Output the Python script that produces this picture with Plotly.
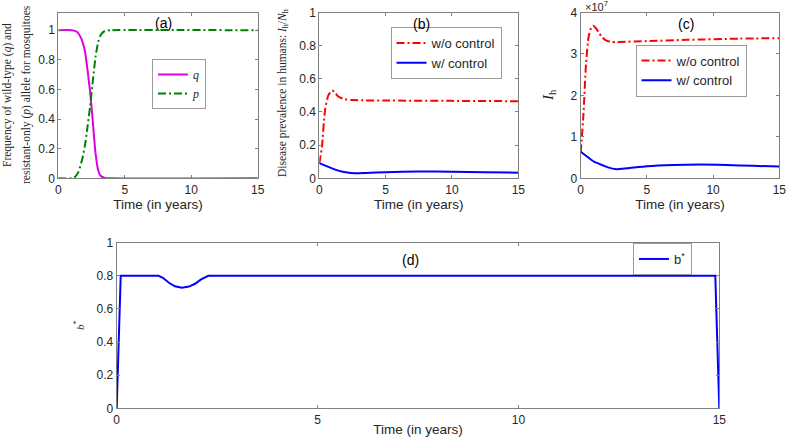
import plotly.graph_objects as go

# ---------------- data ----------------
# (a) allele frequencies
t_q = [0, 1.0, 1.4, 1.7, 2.0, 2.2, 2.4, 2.6, 2.8, 3.0, 3.2, 3.5, 4.0, 15]
q_vals = [1, 1, 0.99, 0.95, 0.86, 0.73, 0.58, 0.38, 0.17, 0.055, 0.015, 0.003, 0, 0]
t_p = [0, 1.0, 1.2, 1.5, 1.8, 2.0, 2.2, 2.4, 2.6, 2.8, 3.0, 3.2, 3.5, 4.0, 15]
p_vals = [0, 0, 0.005, 0.04, 0.13, 0.22, 0.35, 0.49, 0.66, 0.82, 0.92, 0.97, 0.995, 1, 1]

# (b) disease prevalence
t_b_wo = [0, 0.2, 0.43, 0.68, 0.98, 1.18, 1.43, 1.93, 2.5, 3.5, 5, 10, 15]
prev_wo = [0.09, 0.19, 0.41, 0.50, 0.529, 0.517, 0.493, 0.477, 0.472, 0.470, 0.469, 0.467, 0.465]
t_b_w = [0, 0.5, 1.0, 1.5, 2.0, 2.7, 3.5, 5, 7.5, 10, 12.5, 15]
prev_w = [0.092, 0.075, 0.058, 0.045, 0.036, 0.030, 0.032, 0.037, 0.041, 0.040, 0.037, 0.034]

# (c) infected humans
t_c_wo = [0, 0.2, 0.4, 0.6, 0.8, 0.95, 1.15, 1.4, 1.6, 1.9, 2.3, 2.7, 3, 5, 8, 12, 15]
ih_wo = [0.62e7, 1.5e7, 2.75e7, 3.42e7, 3.64e7, 3.68e7, 3.62e7, 3.50e7, 3.41e7, 3.33e7,
         3.29e7, 3.28e7, 3.29e7, 3.31e7, 3.34e7, 3.37e7, 3.38e7]
t_c_w = [0, 0.5, 1.0, 1.31, 2.0, 2.7, 3.5, 5, 7, 9, 11, 13, 15]
ih_w = [0.64e7, 0.52e7, 0.40e7, 0.36e7, 0.27e7, 0.22e7, 0.24e7, 0.29e7, 0.32e7, 0.33e7,
        0.32e7, 0.30e7, 0.285e7]

# (d) control b*
t_d = [0, 0.1, 1.04, 1.15, 1.3, 1.45, 1.62, 1.8, 1.95, 2.1, 2.28, 14.9, 15]
b_vals = [0, 0.8, 0.8, 0.788, 0.758, 0.737, 0.728, 0.735, 0.752, 0.778, 0.8, 0.8, 0]

x_ticks = [0, 5, 10, 15]
y_ticks01 = [0, 0.2, 0.4, 0.6, 0.8, 1]
y_ticks_c = [0, 1e7, 2e7, 3e7, 4e7]
y_ticktext_c = ["0", "1", "2", "3", "4"]

# ---------------- layout helpers ----------------
W, H = 787, 437
def fx(x):
    return x / W
def fy(y):
    return 1 - y / H

AX = "#808080"
TXT = "#262626"
SANS = "Liberation Sans, Arial, sans-serif"
SERIF = "Liberation Serif, Times New Roman, serif"
DASHDOT = "8px,3px,2px,3px"

fig = go.Figure()

# (a)
fig.add_trace(go.Scatter(x=t_q, y=q_vals, mode="lines", name="<i>q</i>",
                         line=dict(color="#e000e0", width=2, shape="spline", smoothing=0.6),
                         xaxis="x", yaxis="y", legend="legend"))
fig.add_trace(go.Scatter(x=t_p, y=p_vals, mode="lines", name="<i>p</i>",
                         line=dict(color="#008000", width=2, dash=DASHDOT, shape="spline", smoothing=0.6),
                         xaxis="x", yaxis="y", legend="legend"))
# (b)
fig.add_trace(go.Scatter(x=t_b_wo, y=prev_wo, mode="lines", name="w/o control",
                         line=dict(color="#ff0000", width=2, dash=DASHDOT, shape="spline", smoothing=0.6),
                         xaxis="x2", yaxis="y2", legend="legend2"))
fig.add_trace(go.Scatter(x=t_b_w, y=prev_w, mode="lines", name="w/ control",
                         line=dict(color="#0000ff", width=2, shape="spline", smoothing=0.6),
                         xaxis="x2", yaxis="y2", legend="legend2"))
# (c)
fig.add_trace(go.Scatter(x=t_c_wo, y=ih_wo, mode="lines", name="w/o control",
                         line=dict(color="#ff0000", width=2, dash=DASHDOT, shape="spline", smoothing=0.6),
                         xaxis="x3", yaxis="y3", legend="legend3"))
fig.add_trace(go.Scatter(x=t_c_w, y=ih_w, mode="lines", name="w/ control",
                         line=dict(color="#0000ff", width=2, shape="spline", smoothing=0.6),
                         xaxis="x3", yaxis="y3", legend="legend3"))
# (d)
fig.add_trace(go.Scatter(x=t_d, y=b_vals, mode="lines", name="b<sup>*</sup>",
                         line=dict(color="#0000ff", width=2),
                         xaxis="x4", yaxis="y4", legend="legend4"))

def xax(domain, anchor, title_text):
    return dict(domain=domain, anchor=anchor, range=[0, 15], tickvals=x_ticks, automargin=False,
                showline=True, linecolor=AX, linewidth=1, mirror="ticks", ticklabeloverflow="allow",
                ticks="inside", ticklen=3, tickcolor=AX, showgrid=False, zeroline=False,
                tickfont=dict(family=SANS, size=12, color=TXT),
                title=dict(text=title_text, font=dict(family=SANS, size=13.5, color=TXT), standoff=1))

def yax(domain, anchor, rng, tickvals, ticktext=None):
    d = dict(domain=domain, anchor=anchor, range=rng, tickvals=tickvals, automargin=False,
             showline=True, linecolor=AX, linewidth=1, mirror="ticks", ticklabeloverflow="allow",
             ticks="inside", ticklen=3, tickcolor=AX, showgrid=False, zeroline=False,
             tickfont=dict(family=SANS, size=12, color=TXT))
    if ticktext is not None:
        d["ticktext"] = ticktext
    return d

top_dom = [fy(178.3), fy(12.5)]
bot_dom = [fy(408.3), fy(242.7)]

legend_common = dict(bgcolor="white", bordercolor="#9a9a9a", borderwidth=1,
                     xref="paper", yref="paper", xanchor="center", yanchor="middle",
                     itemwidth=30, tracegroupgap=0)

fig.update_layout(
    template="none",
    width=W, height=H, margin=dict(l=0, r=0, t=0, b=0, pad=0), autosize=False,
    paper_bgcolor="white", plot_bgcolor="white", showlegend=True,
    xaxis=xax([fx(58.3), fx(257.7)], "y", "Time (in years)"),
    yaxis=yax(top_dom, "x", [0, 1.12], y_ticks01),
    xaxis2=xax([fx(319.3), fx(518.3)], "y2", "Time (in years)"),
    yaxis2=yax(top_dom, "x2", [0, 1], y_ticks01),
    xaxis3=xax([fx(580.7), fx(779.3)], "y3", "Time (in years)"),
    yaxis3=yax(top_dom, "x3", [0, 4e7], y_ticks_c, y_ticktext_c),
    xaxis4=xax([fx(116.7), fx(719.3)], "y4", "Time (in years)"),
    yaxis4=yax(bot_dom, "x4", [0, 1], y_ticks01),
    legend=dict(legend_common, x=fx(179), y=fy(84), font=dict(family=SERIF, size=12, color=TXT)),
    legend2=dict(legend_common, x=fx(446), y=fy(53), font=dict(family=SANS, size=13, color=TXT)),
    legend3=dict(legend_common, x=fx(691), y=fy(70.5), font=dict(family=SANS, size=13, color=TXT)),
    legend4=dict(legend_common, x=fx(662.5), y=fy(259), font=dict(family=SANS, size=13, color=TXT)),
)

ann = []
# panel labels
for txt, x, y in [("(a)", 163, 23), ("(b)", 421.7, 24), ("(c)", 685.7, 24), ("(d)", 410, 260)]:
    ann.append(dict(text=txt, x=fx(x), y=fy(y), xref="paper", yref="paper", showarrow=False,
                    xanchor="center", yanchor="middle", font=dict(family=SANS, size=14, color="black")))
# y-axis titles
ann.append(dict(text="Frequency of wild-type (<i>q</i>) and", x=fx(8), y=fy(95), xref="paper", yref="paper",
                showarrow=False, textangle=-90, xanchor="center", yanchor="middle",
                font=dict(family=SERIF, size=11.5, color=TXT)))
ann.append(dict(text="resistant-only (<i>p</i>) allele for mosquitoes", x=fx(27), y=fy(95), xref="paper", yref="paper",
                showarrow=False, textangle=-90, xanchor="center", yanchor="middle",
                font=dict(family=SERIF, size=11.5, color=TXT)))
ann.append(dict(text="Disease prevalence in humans: <i>I</i><sub>h</sub>/<i>N</i><sub>h</sub>", x=fx(283), y=fy(93),
                xref="paper", yref="paper", showarrow=False, textangle=-90, xanchor="center", yanchor="middle",
                font=dict(family=SERIF, size=11.5, color=TXT)))
ann.append(dict(text="<i>I</i><sub>h</sub>", x=fx(549), y=fy(95), xref="paper", yref="paper",
                showarrow=False, textangle=-90, xanchor="center", yanchor="middle",
                font=dict(family=SERIF, size=15, color=TXT)))
ann.append(dict(text="<i>b</i><sup>*</sup>", x=fx(79), y=fy(325), xref="paper", yref="paper",
                showarrow=False, textangle=-90, xanchor="center", yanchor="middle",
                font=dict(family=SERIF, size=11, color=TXT)))
ann.append(dict(text="×10<sup>7</sup>", x=fx(583), y=fy(6), xref="paper", yref="paper",
                showarrow=False, xanchor="left", yanchor="middle",
                font=dict(family=SANS, size=11, color=TXT)))
fig.update_layout(annotations=ann)

fig.write_html(
    "out.html",
    config={"displayModeBar": False},
    post_script="document.body.style.margin='0';document.body.style.padding='0';"
                "document.documentElement.style.overflow='hidden';",
)
